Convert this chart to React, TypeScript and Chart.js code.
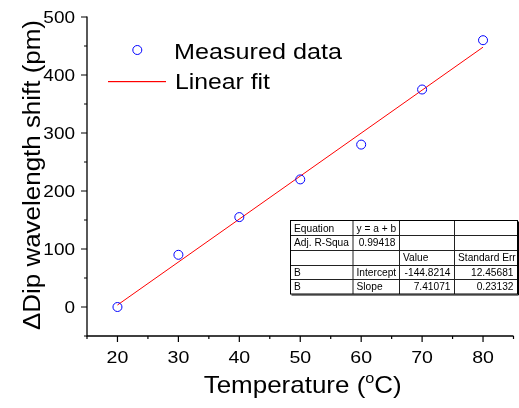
import React, { useEffect, useRef } from "react";
import { Chart, registerables } from "chart.js";

Chart.register(...registerables);

// ---- data ----
const temperatures = [20, 30, 40, 50, 60, 70, 80];
const dipShift = [0, 90, 155, 220, 280, 375, 460];
const fitX = [20, 80];
const fitY = [3.4, 448.0];
const xTickValues = [20, 30, 40, 50, 60, 70, 80];
const xMinorValues = [15, 25, 35, 45, 55, 65, 75, 85];
const yTickValues = [0, 100, 200, 300, 400, 500];
const yMinorValues = [-50, 50, 150, 250, 350, 450];
const legendLabels = ["Measured data", "Linear fit"];
const tableRows = [
  ["Equation", "y = a + b", "", ""],
  ["Adj. R-Squa", "0.99418", "", ""],
  ["", "", "Value", "Standard Err"],
  ["B", "Intercept", "-144.8214", "12.45681"],
  ["B", "Slope", "7.41071", "0.23132"],
];
const xTitle = ["Temperature (", "o", "C)"];
const yTitle = "\u0394Dip wavelength shift (pm)";

const FONT = '"Liberation Sans", Arial, Helvetica, sans-serif';

function txt(
  ctx: CanvasRenderingContext2D,
  s: string,
  x: number,
  y: number,
  size: number,
  align: CanvasTextAlign,
  sx: number,
  rot = 0,
  targetW?: number
) {
  ctx.save();
  ctx.font = `${size}px ${FONT}`;
  let scale = sx;
  if (targetW) scale = targetW / ctx.measureText(s).width;
  ctx.translate(x, y);
  if (rot) ctx.rotate(rot);
  ctx.scale(scale, 1);
  ctx.textAlign = align;
  ctx.textBaseline = "alphabetic";
  ctx.fillStyle = "#000";
  ctx.fillText(s, 0, 0);
  ctx.restore();
}

const overlay = {
  id: "overlay",
  afterDraw(chart: any) {
    const ctx: CanvasRenderingContext2D = chart.ctx;
    const xs = chart.scales.x;
    const ys = chart.scales.y;
    const ca = chart.chartArea;
    ctx.save();
    ctx.strokeStyle = "#000";
    ctx.lineWidth = 1.3;
    // axis lines
    ctx.beginPath();
    ctx.moveTo(ca.left, ca.top - 0.5);
    ctx.lineTo(ca.left, ca.bottom);
    ctx.lineTo(ca.right, ca.bottom);
    ctx.stroke();
    // ticks
    ctx.lineWidth = 1.2;
    ctx.beginPath();
    for (const v of yTickValues) {
      const p = ys.getPixelForValue(v);
      ctx.moveTo(ca.left, p);
      ctx.lineTo(ca.left - 6, p);
    }
    for (const v of yMinorValues) {
      const p = ys.getPixelForValue(v);
      ctx.moveTo(ca.left, p);
      ctx.lineTo(ca.left - 3, p);
    }
    for (const v of xTickValues) {
      const p = xs.getPixelForValue(v);
      ctx.moveTo(p, ca.bottom);
      ctx.lineTo(p, ca.bottom + 6);
    }
    for (const v of xMinorValues) {
      const p = xs.getPixelForValue(v);
      ctx.moveTo(p, ca.bottom);
      ctx.lineTo(p, ca.bottom + 3);
    }
    ctx.stroke();
    ctx.restore();

    // tick labels
    for (const v of yTickValues) {
      txt(ctx, String(v), ca.left - 12, ys.getPixelForValue(v) + 6, 16.5, "right", 1.15);
    }
    for (const v of xTickValues) {
      txt(ctx, String(v), xs.getPixelForValue(v), ca.bottom + 27, 17, "center", 1.15);
    }

    // axis titles
    txt(ctx, yTitle, 40, 175, 23, "center", 1, -Math.PI / 2, 310);
    ctx.save();
    ctx.font = `24px ${FONT}`;
    const w1 = ctx.measureText(xTitle[0]).width;
    const w3 = ctx.measureText(xTitle[2]).width;
    ctx.font = `15px ${FONT}`;
    const w2 = ctx.measureText(xTitle[1]).width;
    ctx.restore();
    const total = 198;
    const sx = total / (w1 + w2 + w3);
    const x0 = 302.7 - total / 2;
    txt(ctx, xTitle[0], x0, 393, 24, "left", sx);
    txt(ctx, xTitle[1], x0 + w1 * sx, 382.5, 15, "left", sx);
    txt(ctx, xTitle[2], x0 + (w1 + w2) * sx, 393, 24, "left", sx);

    // legend
    ctx.save();
    ctx.strokeStyle = "#0000ff";
    ctx.lineWidth = 1;
    ctx.beginPath();
    ctx.arc(137.3, 50, 4.5, 0, Math.PI * 2);
    ctx.stroke();
    ctx.fillStyle = "#ff0000";
    ctx.fillRect(108, 81, 58, 1.2);
    ctx.restore();
    txt(ctx, legendLabels[0], 174, 59, 22.5, "left", 1, 0, 168);
    txt(ctx, legendLabels[1], 175, 89, 22.5, "left", 1, 0, 95);

    // table
    const cols = [290.5, 353, 399.5, 454.5, 517.5];
    const top = 220.5;
    const rh = 14.7;
    const bottom = top + rh * tableRows.length;
    ctx.save();
    ctx.fillStyle = "#fff";
    ctx.fillRect(cols[0], top, cols[4] - cols[0], bottom - top);
    ctx.strokeStyle = "#222";
    ctx.lineWidth = 1;
    ctx.beginPath();
    for (let i = 1; i < tableRows.length; i++) {
      const y = Math.round(top + rh * i) + 0.5;
      ctx.moveTo(cols[0], y);
      ctx.lineTo(cols[4], y);
    }
    for (let j = 1; j < 4; j++) {
      ctx.moveTo(cols[j], top);
      ctx.lineTo(cols[j], bottom);
    }
    ctx.stroke();
    ctx.strokeStyle = "#000";
    ctx.strokeRect(cols[0], top, cols[4] - cols[0], bottom - top);
    ctx.lineWidth = 1;
    ctx.beginPath();
    ctx.moveTo(cols[0] + 1, bottom + 1);
    ctx.lineTo(cols[4] + 1, bottom + 1);
    ctx.lineTo(cols[4] + 1, top + 1);
    ctx.stroke();
    ctx.restore();

    const rightAligned = (r: number, c: number) =>
      (r === 1 && c === 1) || (r >= 3 && c >= 2);
    tableRows.forEach((row, r) => {
      const yb = top + rh * r + rh / 2 + 3.7;
      row.forEach((cell, c) => {
        if (!cell) return;
        ctx.save();
        ctx.beginPath();
        ctx.rect(cols[c], top + rh * r, cols[c + 1] - cols[c] - 1, rh);
        ctx.clip();
        if (rightAligned(r, c)) {
          txt(ctx, cell, cols[c + 1] - 4, yb, 10.2, "right", 1);
        } else {
          txt(ctx, cell, cols[c] + 3.5, yb, 10.2, "left", 1);
        }
        ctx.restore();
      });
    });
  },
};

export default function App() {
  const ref = useRef<HTMLCanvasElement | null>(null);
  useEffect(() => {
    if (!ref.current) return;
    const chart = new Chart(ref.current, {
      type: "scatter",
      data: {
        datasets: [
          {
            label: legendLabels[0],
            data: temperatures.map((t, i) => ({ x: t, y: dipShift[i] })),
            pointStyle: "circle",
            pointRadius: 4.5,
            pointBorderWidth: 1,
            borderColor: "#0000ff",
            backgroundColor: "rgba(0,0,0,0)",
            showLine: false,
          },
          {
            label: legendLabels[1],
            data: fitX.map((t, i) => ({ x: t, y: fitY[i] })),
            showLine: true,
            pointRadius: 0,
            borderColor: "#ff0000",
            borderWidth: 1,
            backgroundColor: "#ff0000",
          },
        ],
      },
      options: {
        responsive: false,
        animation: false,
        layout: { padding: { left: 87, top: 17, right: 1, bottom: 72 } },
        plugins: { legend: { display: false }, tooltip: { enabled: false } },
        scales: {
          x: { type: "linear", min: 15, max: 85, display: false },
          y: { type: "linear", min: -50, max: 500, display: false },
        },
      },
      plugins: [overlay],
    });
    return () => chart.destroy();
  }, []);
  return (
    <div style={{ position: "absolute", left: 0, top: 0, width: 519, height: 408, background: "#fff" }}>
      <canvas ref={ref} width={519} height={408} style={{ display: "block" }} />
    </div>
  );
}
